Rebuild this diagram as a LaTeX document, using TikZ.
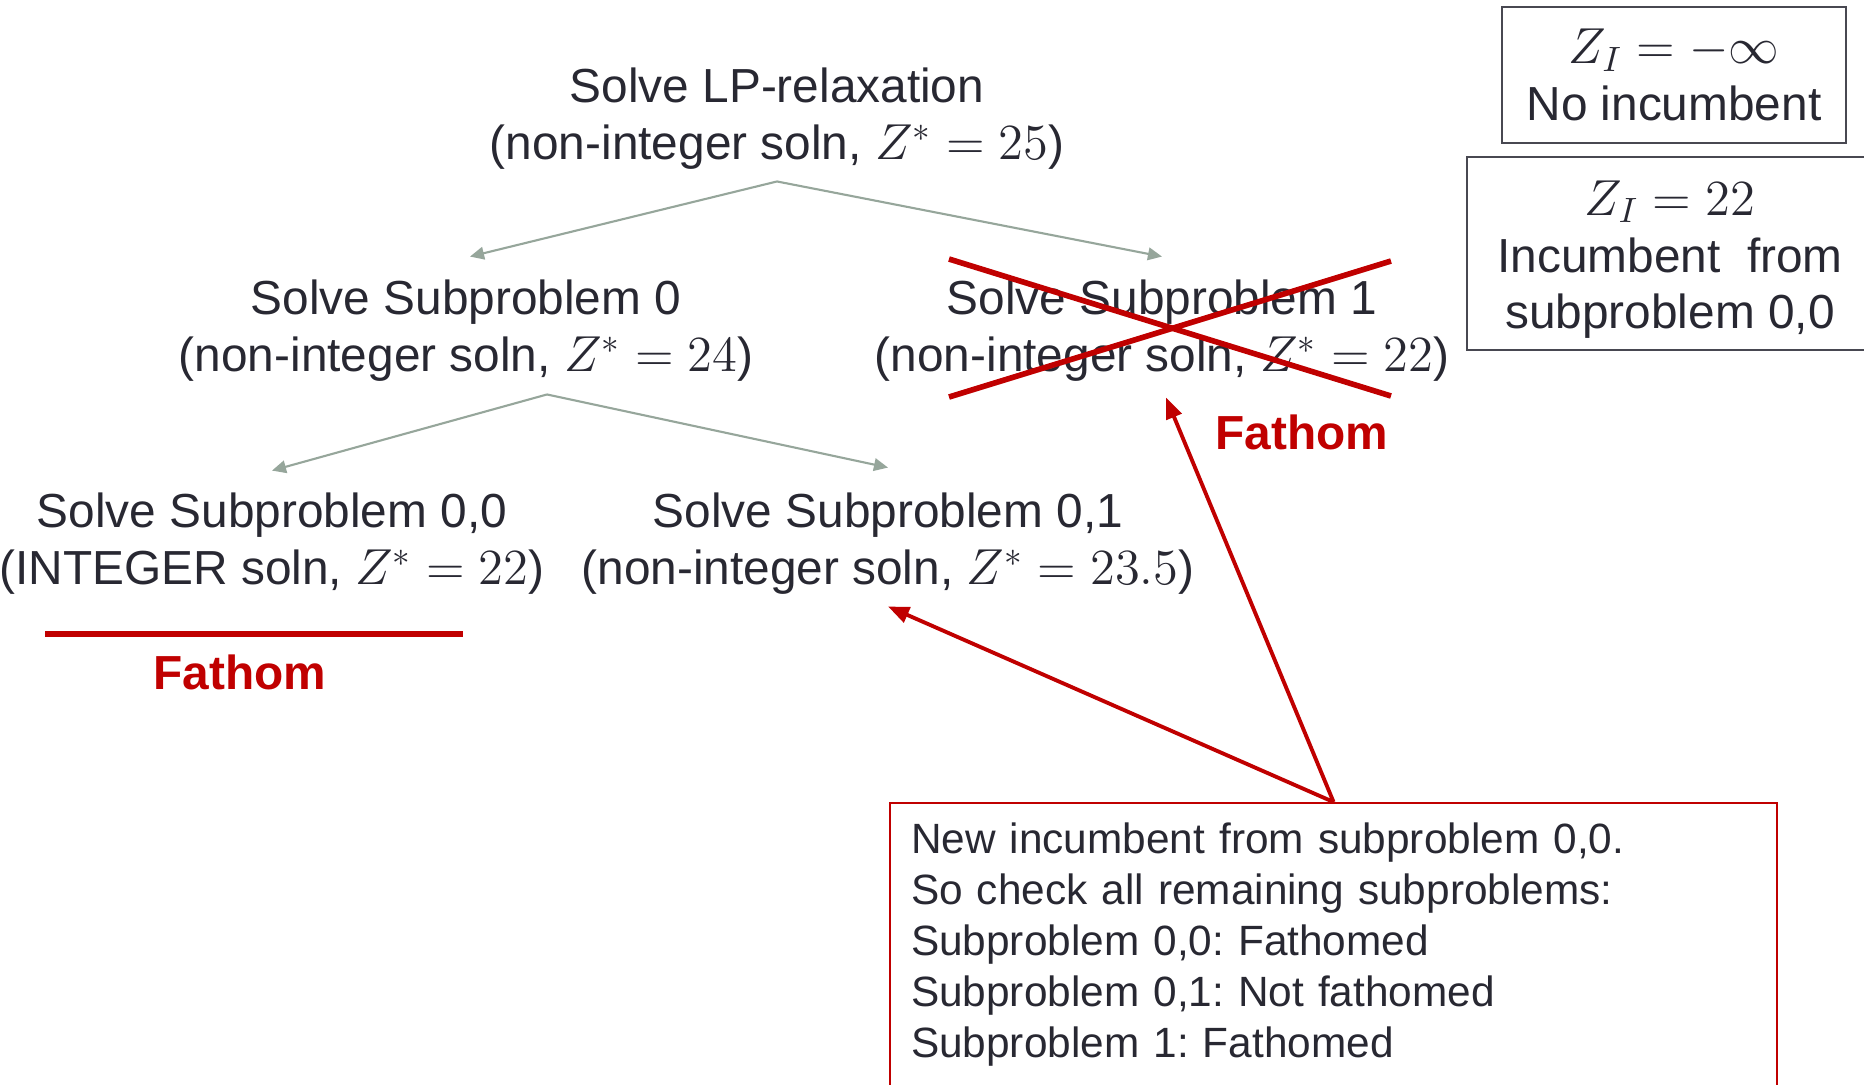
\documentclass[tikz,border=0pt]{standalone}
\usepackage{fontspec}
\setmainfont{Liberation Sans}
\usetikzlibrary{arrows.meta, positioning, calc}
\frenchspacing

\definecolor{ink}{RGB}{40,40,50}
\definecolor{fathomred}{RGB}{192,0,0}
\definecolor{branchgray}{RGB}{150,166,155}

\begin{document}
\begin{tikzpicture}[
    font=\fontsize{13.6}{16.2}\selectfont,
    % Styles
    subproblem/.style={align=center, inner sep=0pt, text=ink},
    incumbent/.style={
        draw=ink!85, line width=0.7pt, align=center, text=ink, inner sep=0pt
    },
    note/.style={
        draw=fathomred, line width=0.6pt, align=left, text=ink,
        text width=8.45cm, inner xsep=0.21cm, inner ysep=0.2cm,
        font=\fontsize{12.05}{14.5}\selectfont
    },
    fathom/.style={font=\fontsize{13.6}{16.2}\selectfont\bfseries, text=fathomred, inner sep=0pt},
    branch/.style={-{Triangle[length=4pt, width=3.6pt]}, line width=0.6pt, color=branchgray},
    pointer/.style={-{Triangle[length=6pt, width=4.6pt]}, line width=1.1pt, color=fathomred},
    cross/.style={line width=1.6pt, color=fathomred}
]

    \useasboundingbox (0,0) rectangle (18.64,-10.84);
    \clip (0,0) rectangle (18.64,-10.84);

    % --- Branch and bound tree ---
    \node[subproblem] (root) at (7.77,-1.19) {Solve LP-relaxation\\(non-integer soln, $Z^{*}=25$)};

    \node[subproblem] (sub0) at (4.66,-3.31) {Solve Subproblem 0\\(non-integer soln, $Z^{*}=24$)};
    \node[subproblem] (sub1) at (11.62,-3.31) {Solve Subproblem 1\\(non-integer soln, $Z^{*}=22$)};

    \node[subproblem] (sub00) at (2.72,-5.44) {Solve Subproblem 0,0\\(INTEGER soln, $Z^{*}=22$)};
    \node[subproblem] (sub01) at (8.88,-5.44) {Solve Subproblem 0,1\\(non-integer soln, $Z^{*}=23.5$)};

    % --- Incumbent boxes ---
    \node[incumbent, minimum width=3.44cm, minimum height=1.36cm] (inc0) at (16.74,-0.75)
        {$Z_{I}=-\infty$\\No incumbent};
    \node[incumbent, minimum width=4.06cm, minimum height=1.93cm] (inc1) at (16.70,-2.535)
        {\rule{0pt}{0.47cm}$Z_{I}=22$\\Incumbent\ \ from\\subproblem 0,0};

    % --- Fathom marks ---
    \node[fathom] (fathomA) at (2.40,-6.72) {Fathom};
    \node[fathom] (fathomB) at (13.02,-4.32) {Fathom};

    \draw[cross] ($(sub1)+(-2.13,0.72)$) -- ($(sub1)+(2.29,-0.65)$);
    \draw[cross] ($(sub1)+(-2.13,-0.66)$) -- ($(sub1)+(2.29,0.70)$);
    \draw[cross] ($(sub00)+(-2.27,-0.90)$) -- ($(sub00)+(1.91,-0.90)$);

    % --- Note ---
    \node[note, anchor=north west] (note) at (8.89,-8.02) {
        New incumbent from subproblem 0,0.\\
        So check all remaining subproblems:\\
        Subproblem 0,0: Fathomed\\
        Subproblem 0,1: Not fathomed\\
        Subproblem 1: Fathomed
    };

    % --- Connections ---
    \draw[branch] ([yshift=-0.11cm]root.south) -- ([xshift=0.04cm, yshift=0.23cm]sub0.north);
    \draw[branch] ([yshift=-0.11cm]root.south) -- ([yshift=0.23cm]sub1.north);
    \draw[branch] ([xshift=0.81cm, yshift=-0.12cm]sub0.south) -- ([yshift=0.22cm]sub00.north);
    \draw[branch] ([xshift=0.81cm, yshift=-0.12cm]sub0.south) -- ([yshift=0.25cm]sub01.north);

    \draw[pointer] (note.north) -- ([yshift=-0.11cm]sub01.south);
    \draw[pointer] (note.north) -- ([xshift=0.04cm, yshift=-0.15cm]sub1.south);

\end{tikzpicture}
\end{document}
